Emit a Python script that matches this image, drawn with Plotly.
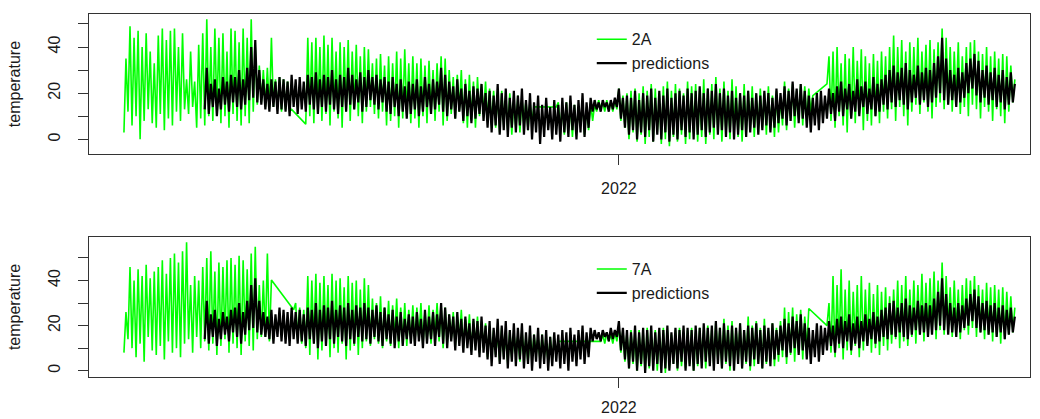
import pandas as pd
import plotly.graph_objects as go

# ---------------- data ----------------
start_date = "2021-05-01"   # first sample; one (low, high) pair every 2 days
step_days = 2
xtick_dates = ["2022-01-01"]
xtick_labels = ["2022"]
ytick_vals = [0, 10, 20, 30, 40, 50]
ytick_labels = ["0", "", "20", "", "40", ""]

N = None
# station 2A (top panel)
a2_low = [3,12,6,10,0,8,13,7,5,11,
          4,9,6,12,8,13,11,14,5,9,
          6,10,8,12,7,10,5,11,8,6,
          10,7,12,15,16,14,13,14,13,12,
          13,12,N,N,N,6.6,10,7,12,8,
          11,6,12,9,5,12,8,13,10,7,
          12,14,11,9,12,6,8,10,5,9,
          11,7,9,5,10,7,11,8,12,6,
          8,11,9,12,7,5,8,5,10,11,
          8,6,5,3,6,4,2,5,3,6,
          4,8,N,N,N,N,N,14,4,2,
          5,1,3,6,2,4,8,12,13,12,
          13,12,13,8,5,0,3,-1,2,-2,
          1,-1,3,-2,0,-3,1,-1,2,-2,
          0,3,-1,1,-2,2,0,3,-1,2,
          0,4,1,-1,2,4,1,3,5,2,
          4,1,3,6,4,8,5,9,6,8,
          12,N,N,N,24,8,5,10,6,3,
          9,7,11,4,8,6,10,7,12,9,
          13,8,14,10,6,12,15,11,16,12,
          9,14,16,13,15,12,16,11,14,10,
          15,13,9,14,12,8,13,10,7,12,
          16]
a2_high = [35,49,44,47,40,46,38,33,45,48,
           43,47,48,40,46,26,38,25,41,46,
           52,40,48,44,46,38,48,47,42,48,
           44,52,40,32,30,31,44,26,27,26,
           25,13,N,N,N,44,42,44,40,45,
           41,44,38,42,40,43,38,41,36,40,
           39,33,35,37,32,36,33,38,35,39,
           33,36,33,35,32,34,30,33,36,35,
           30,27,28,30,26,28,25,27,24,25,
           22,21,20,21,19,20,18,19,18,17,
           16,14.1,N,N,N,N,N,16,15,16,
           14,15,13,16,14,16,15,17,16,17,
           16,17,22,19,20,21,22,20,23,21,
           24,22,20,23,25,21,24,22,20,25,
           23,24,21,26,22,24,27,22,25,21,
           26,23,20,24,21,23,19,22,20,23,
           19,21,18,25,22,24,21,24,23,22,
           18.9,N,N,N,36,38,40,33,37,35,
           40,34,39,36,33,37,34,38,36,40,
           45,40,43,38,42,40,44,38,41,43,
           39,42,48,44,40,38,42,36,40,42,
           43,38,37,40,36,38,35,37,36,32,
           26]
pred2_low = [N]*20 + [
          13,11,14,10,13,15,12,16,14,13,
          15,17,18,16,15,13,12,14,11,13,
          12,10,14,11,13,12,15,13,11,14,
          12,15,13,11,14,12,15,13,16,12,
          14,17,15,13,16,12,11,14,10,12,
          9,11,13,10,12,14,11,13,15,12,
          10,13,9,12,8,10,7,9,11,8,
          5,3,6,2,4,1,5,3,6,2,
          4,0,3,-2,1,4,0,2,-1,3,
          1,4,0,3,1,5,12,13,12,14,
          12,13,14,9,5,2,4,0,3,1,
          4,-1,2,0,3,-1,2,0,4,1,
          3,0,2,4,1,3,5,2,4,1,
          3,0,2,4,1,3,5,2,4,6,
          3,5,7,9,6,8,10,7,9,5,
          3,6,4,7,9,11,8,12,10,13,
          9,12,10,14,11,13,10,12,15,13,
          16,14,17,15,13,16,18,15,17,14,
          16,18,20,17,15,17,14,16,18,20,
          22,19,16,18,15,17,14,16,13,15,
          16]
pred2_high = [N]*20 + [
          31,24,26,22,27,25,28,27,30,26,
          31,40,43,30,26,24,26,25,27,26,
          25,28,26,27,25,28,27,29,26,28,
          27,30,26,28,27,31,28,26,29,27,
          30,27,28,26,27,25,27,24,26,23,
          25,24,26,23,27,24,26,25,31,28,
          25,23,26,22,24,21,23,22,24,20,
          21,19,24,20,22,18,21,19,22,17,
          20,16,19,15,18,14,17,15,18,16,
          19,15,17,20,16,18,17,16,17,16,
          17,18,22,18,19,18,21,17,20,19,
          22,18,21,19,22,18,20,21,19,22,
          20,21,23,20,22,21,24,20,22,19,
          21,18,20,19,21,18,20,19,21,20,
          18,22,20,23,21,25,22,24,21,19,
          18,20,21,19,22,20,23,25,22,24,
          21,26,23,25,22,27,24,26,28,30,
          32,29,31,33,30,28,32,29,31,30,
          33,36,44,35,30,28,31,29,33,35,
          37,34,30,32,29,31,28,30,27,29,
          24]

# station 7A (bottom panel)
a7_low = [8,14,10,6,12,4,15,9,7,11,
          5,13,8,10,6,12,14,8,15,10,
          13,9,12,7,11,14,8,12,10,7,
          13,11,9,14,15,15,13,N,N,N,
          N,N,27,14,12,10,7,12,5,9,
          13,6,10,8,12,5,9,11,7,10,
          13,11,14,12,10,13,11,14,10,12,
          11,13,12,14,11,13,12,15,13,10,
          12,14,11,13,10,12,9,11,8,10,
          6,5,7,4,6,3,5,7,4,6,
          3,5,7,4,6,3,5,8,N,N,
          N,N,N,N,N,N,N,N,13,12,
          13,12,13,8,4,1,3,0,2,-1,
          1,3,0,2,-1,1,3,0,2,1,
          3,0,2,4,1,3,2,4,1,3,
          0,2,4,1,3,0,2,4,1,3,
          5,2,4,6,3,7,4,8,5,9,
          N,N,N,N,20,8,6,10,5,9,
          7,11,6,9,12,8,10,7,11,9,
          12,14,10,13,11,15,12,16,13,15,
          17,14,18,16,19,15,17,14,18,16,
          19,15,17,14,16,13,15,12,14,16,
          17]
a7_high = [26,46,40,45,42,47,41,44,46,49,
           43,50,52,48,53,57,38,42,40,46,
           50,53,44,48,46,49,50,47,51,49,
           45,52,55,38,40,52,40.2,N,N,N,
           N,N,30,28,27,42,40,43,39,42,
           38,43,40,41,37,42,39,40,36,41,
           38,32,30,33,28,31,29,32,28,30,
           27,29,28,30,26,29,27,30,29,28,
           25,26,24,27,23,25,22,24,22,21,
           20,18,17,19,16,18,17,16,18,15,
           17,16,15,16,14,15,14,13,N,N,
           N,N,N,N,N,N,N,N,16,17,
           16,17,20,18,17,18,16,18,17,19,
           16,18,17,19,18,16,18,19,17,18,
           19,17,19,18,20,19,22,19,23,20,
           22,19,21,18,24,20,22,19,23,18,
           21,19,22,28,26,28,25,27,24,27.6,
           N,N,N,N,30,42,38,45,36,40,
           35,38,42,36,39,34,38,35,37,33,
           36,40,38,42,36,40,38,43,39,41,
           44,40,48,42,37,40,36,38,41,40,
           42,38,36,39,37,38,36,37,35,33,
           28]
pred7_low = [N]*20 + [
          14,12,15,11,14,16,13,17,15,12,
          16,18,19,17,16,15,14,12,15,13,
          12,11,14,12,13,11,14,12,10,13,
          11,14,12,15,13,11,14,12,15,13,
          14,12,15,13,11,14,12,10,13,11,
          14,12,11,13,10,12,14,11,15,12,
          10,13,9,11,8,10,7,9,6,8,
          5,2,6,3,5,1,4,2,5,1,
          3,0,4,1,3,0,2,4,1,3,
          0,4,2,5,3,6,13,14,13,15,
          13,14,15,9,5,1,4,0,3,-1,
          2,0,3,-1,1,0,3,1,4,0,
          2,0,3,1,4,2,0,3,1,4,
          2,0,3,1,4,2,5,3,1,4,
          2,5,7,9,6,8,10,7,9,5,
          3,6,4,7,9,11,8,12,10,13,
          9,12,10,13,11,14,12,13,15,14,
          16,15,17,15,14,16,18,16,17,15,
          16,18,20,18,16,17,15,17,19,20,
          22,19,17,18,16,17,15,17,14,16,
          17]
pred7_high = [N]*20 + [
          31,25,27,23,26,24,27,28,30,26,
          31,38,41,31,26,24,27,25,28,27,
          26,28,26,27,25,28,27,30,27,29,
          28,31,27,29,28,30,27,29,28,30,
          28,27,29,26,28,25,27,24,26,23,
          25,24,26,23,27,24,26,25,30,28,
          25,24,26,23,24,21,23,22,24,20,
          22,19,23,20,22,18,21,19,21,17,
          20,16,19,16,18,15,17,16,18,17,
          19,16,18,20,17,19,18,17,18,17,
          19,18,22,19,18,17,20,17,19,18,
          20,17,19,18,20,17,19,18,20,19,
          18,20,19,21,19,20,22,19,21,18,
          20,19,21,18,20,19,21,18,20,19,
          21,18,20,23,21,24,22,25,21,19,
          18,21,20,19,22,20,23,24,22,25,
          21,24,22,25,23,26,24,27,28,30,
          31,28,30,32,29,28,31,29,30,29,
          32,35,41,34,30,28,30,29,32,34,
          36,33,30,31,29,30,28,29,27,28,
          24]

for arr in (a2_low, a2_high, pred2_low, pred2_high, a7_low, a7_high, pred7_low, pred7_high):
    assert len(arr) == 221, len(arr)

# ---------------- build the traces ----------------
t0 = pd.Timestamp(start_date)


def build(lows, highs):
    xs, ys = [], []
    for i, (lo, hi) in enumerate(zip(lows, highs)):
        if lo is None or hi is None:
            continue
        xs += [t0 + pd.Timedelta(days=step_days * i), t0 + pd.Timedelta(days=step_days * i + 1)]
        ys += [lo, hi]
    return xs, ys


FONT = "Liberation Sans, Arial, sans-serif"
TXT = "#1a1a1a"
BOX = "#333333"

fig = go.Figure()
panels = [
    ("2A", a2_low, a2_high, pred2_low, pred2_high, "x", "y", "legend"),
    ("7A", a7_low, a7_high, pred7_low, pred7_high, "x2", "y2", "legend2"),
]
for name, lo, hi, plo, phi, xa, ya, lg in panels:
    x, y = build(lo, hi)
    fig.add_trace(go.Scatter(x=x, y=y, mode="lines", name=name, xaxis=xa, yaxis=ya,
                             legend=lg, line=dict(color="#00ff00", width=1.6)))
    x, y = build(plo, phi)
    fig.add_trace(go.Scatter(x=x, y=y, mode="lines", name="predictions", xaxis=xa, yaxis=ya,
                             legend=lg, line=dict(color="#000000", width=2.2)))

xr = [t0 - pd.Timedelta(days=17.3), t0 + pd.Timedelta(days=448.5)]


def xaxis(anchor, standoff):
    return dict(type="date", range=xr, anchor=anchor, tickvals=xtick_dates, ticktext=xtick_labels,
                ticks="outside", ticklen=10, tickcolor=BOX, tickwidth=1,
                showline=True, mirror=True, linecolor=BOX, linewidth=1,
                showgrid=False, zeroline=False, ticklabelstandoff=standoff, automargin=False,
                tickfont=dict(family=FONT, size=16, color=TXT))


def yaxis(anchor, rng, dom):
    return dict(range=rng, domain=dom, anchor=anchor, tickvals=ytick_vals, ticktext=ytick_labels,
                tickangle=-90, ticks="outside", ticklen=10, tickcolor=BOX, tickwidth=1,
                showline=True, mirror=True, linecolor=BOX, linewidth=1,
                showgrid=False, zeroline=False, ticklabelstandoff=12, automargin=False,
                tickfont=dict(family=FONT, size=16, color=TXT),
                title=dict(text="temperature", standoff=20, font=dict(family=FONT, size=16, color=TXT)))


leg = dict(bgcolor="rgba(0,0,0,0)", borderwidth=0, font=dict(family=FONT, size=16, color=TXT),
           xanchor="left", yanchor="top", tracegroupgap=0, itemclick=False)

fig.update_layout(
    width=1040, height=419,
    margin=dict(l=89, r=10, t=14, b=42),
    paper_bgcolor="white", plot_bgcolor="white",
    showlegend=True,
    xaxis=xaxis("y", 10), yaxis=yaxis("x", [-6.4, 54.3], [0.614, 1.0]),
    xaxis2=xaxis("y2", 6), yaxis2=yaxis("x2", [-2.8, 59.3], [0.0, 0.3857]),
    legend=dict(leg, x=0.5343, y=0.977),
    legend2=dict(leg, x=0.5343, y=0.344),
)

fig.write_html("out.html")
